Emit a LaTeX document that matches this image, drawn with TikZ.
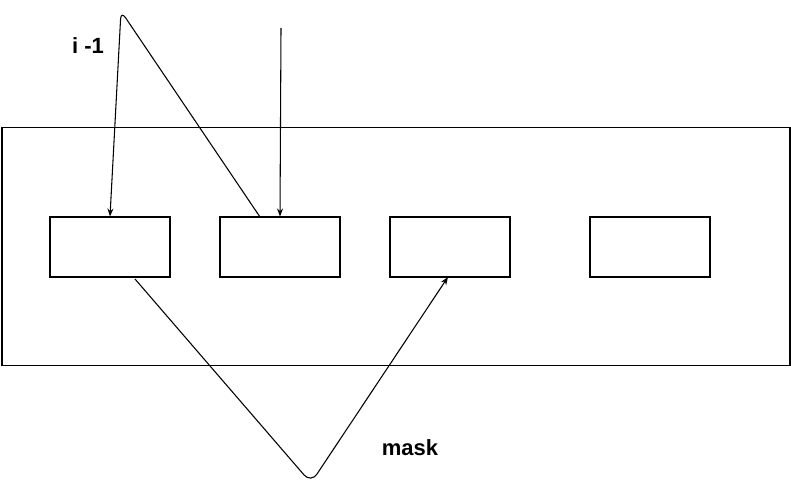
\documentclass[tikz,border=0pt]{standalone}
\usepackage{fontspec}
\setmainfont{Liberation Sans}
\usetikzlibrary{arrows.meta}
\begin{document}
\begin{tikzpicture}[x=0.75pt,y=-0.75pt,line width=0.8pt,
  cell/.style={draw,minimum width=90pt,minimum height=45pt,inner sep=0pt},
  arr/.style={-{Stealth[length=6pt,width=4.5pt]}},
  lbl/.style={font=\bfseries\fontsize{16.5}{19}\selectfont}]
\useasboundingbox (0,0) rectangle (791,496);
\node[draw,minimum width=591pt,minimum height=179pt,inner sep=0pt] (outer) at (396,246.5) {};
\node[cell] (b1) at (110,247) {};
\node[cell] (b2) at (280,247) {};
\node[cell] (b3) at (450,247) {};
\node[cell] (b4) at (650,247) {};
\coordinate (top) at (281,28);
\draw[arr,rounded corners=6pt] (260,217) -- (121,11) -- (b1.north);
\draw[arr] (top) -- (b2.north);
\draw[arr,rounded corners=8pt] (135,279) -- (311,483) -- (448,277);
\node[lbl] (l1) at (88,46) {i -1};
\node[lbl] (l2) at (410,448) {mask};
\end{tikzpicture}
\end{document}
